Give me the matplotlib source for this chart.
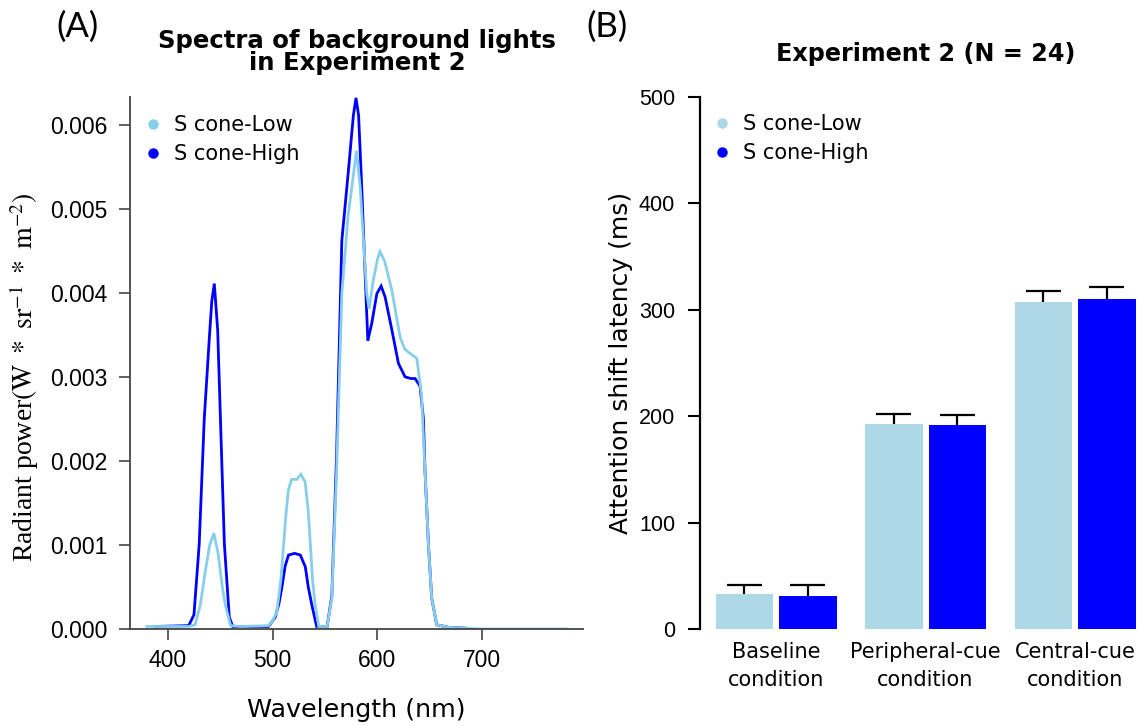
import matplotlib
matplotlib.use('Agg')
import matplotlib.pyplot as plt
from matplotlib.lines import Line2D

plt.rcParams['mathtext.fontset'] = 'stix'

# ---------------- data ----------------
wl_low = [380, 420, 426, 431, 436, 440, 444, 448, 452, 455, 460, 470, 496, 500, 504, 508,
          510.5, 513, 515, 518, 523, 527, 531, 534, 536, 538, 540.6, 544, 552, 556.5, 561,
          566, 572, 576, 580, 583.5, 586.7, 589.8, 592, 596, 600, 602.5, 607, 613.7, 621.6,
          626, 631, 637.5, 642, 645.4, 648.6, 651.7, 656.5, 668, 680, 700, 780]
power_low = [0.00003, 0.00003, 0.00005, 0.00028, 0.0007, 0.0010, 0.00114, 0.0009, 0.0005,
             0.00028, 0.00004, 0.00003, 0.00004, 0.0001, 0.0002, 0.0006, 0.00101, 0.0014,
             0.00165, 0.00178, 0.00178, 0.00184, 0.00175, 0.0014, 0.00101, 0.0006, 0.00028,
             0.00003, 0.00003, 0.00037, 0.00186, 0.00399, 0.00492, 0.0053, 0.00569, 0.00526,
             0.00462, 0.00399, 0.00381, 0.00415, 0.0044, 0.00449, 0.00437, 0.00403, 0.00347,
             0.00333, 0.00328, 0.00322, 0.00279, 0.00186, 0.00101, 0.00037, 0.00005, 0.00002,
             0.00001, 0.0, 0.0]

wl_high = [388, 420, 425, 430, 434.8, 439.7, 442, 444.4, 447.6, 450.8, 454, 458.7, 462, 496,
           502.5, 506, 508.9, 512, 515.2, 521, 526.4, 531.2, 534, 537.5, 542, 552, 556.5, 561,
           566, 572.4, 577, 579.5, 582, 585, 588.3, 590.8, 594.6, 599.4, 603.5, 607.3, 613.7,
           620, 626.3, 632, 635.9, 640.6, 643.8, 645.4, 648.6, 651.7, 656.5, 668, 684]
power_high = [0.00003, 0.00004, 0.00017, 0.00101, 0.0025, 0.00347, 0.0039, 0.00411, 0.00356,
              0.00228, 0.00101, 0.00014, 0.00003, 0.00003, 0.00014, 0.0003, 0.0005, 0.00075,
              0.00088, 0.0009, 0.00088, 0.00074, 0.0005, 0.00028, 0.00003, 0.00003, 0.0004,
              0.00207, 0.00462, 0.00547, 0.00611, 0.00632, 0.00611, 0.00526, 0.0042, 0.00343,
              0.00364, 0.00399, 0.00408, 0.00395, 0.00356, 0.00316, 0.003, 0.00298, 0.00298,
              0.00289, 0.0025, 0.00186, 0.00101, 0.00037, 0.00005, 0.00002, 0.00001]

conditions = ["Baseline\ncondition", "Peripheral-cue\ncondition", "Central-cue\ncondition"]
latency_low = [32.6, 192.4, 307.0]
latency_high = [31.3, 191.5, 310.2]
err_low = [8.8, 9.4, 10.4]
err_high = [10.1, 9.3, 11.5]

series_names = ["S cone-Low", "S cone-High"]
line_colors = ["#87CEEB", "#0000FF"]
bar_colors = ["#ADD8E6", "#0000FF"]

# ---------------- layout helpers ----------------
W, H = 1148, 726
fig = plt.figure(figsize=(W / 100, H / 100), dpi=100)


def fx(px):
    return px / W


def fy(py):
    return 1 - py / H


SANS = 'Liberation Sans'
DV = 'DejaVu Sans'

# ---------------- panel A ----------------
axL = fig.add_axes([fx(130), fy(629), (583 - 130) / W, (629 - 97) / H])
axL.plot(wl_high, power_high, color=line_colors[1], lw=2.0, solid_joinstyle='miter')
axL.plot(wl_low, power_low, color=line_colors[0], lw=2.0, solid_joinstyle='miter')
axL.set_xlim(364, 796)
axL.set_ylim(0, 0.00633)
axL.set_xticks([400, 500, 600, 700])
axL.set_yticks([0, 0.001, 0.002, 0.003, 0.004, 0.005, 0.006])
axL.set_yticklabels([f"{v:.3f}" for v in axL.get_yticks()])
for s in ['top', 'right']:
    axL.spines[s].set_visible(False)
for s in ['left', 'bottom']:
    axL.spines[s].set_color('#444444')
    axL.spines[s].set_linewidth(1.3)
axL.tick_params(axis='both', direction='out', length=7.7, width=1.2, color='#444444',
                labelsize=16.5)
axL.tick_params(axis='y', pad=8.5)
axL.tick_params(axis='x', pad=7)
for lab in axL.get_xticklabels() + axL.get_yticklabels():
    lab.set_fontfamily(SANS)

hL = [Line2D([], [], ls='none', marker='o', markersize=7.5, markeredgewidth=0, color=c)
      for c in line_colors]
axL.legend(hL, series_names, loc='upper left', frameon=False,
           bbox_to_anchor=(fx(145), fy(115)), bbox_transform=fig.transFigure,
           borderaxespad=0, borderpad=0, handlelength=0.8, handletextpad=0.6,
           labelspacing=0.44, prop={'family': DV, 'size': 15})

fig.text(fx(357), fy(48.3), "Spectra of background lights", ha='center', va='baseline',
         fontsize=17.6, fontweight='bold', family=DV)
fig.text(fx(357), fy(70), "in Experiment 2", ha='center', va='baseline',
         fontsize=17.6, fontweight='bold', family=DV)
fig.text(fx(356), fy(717), "Wavelength (nm)", ha='center', va='baseline',
         fontsize=18.3, family=DV)
fig.text(fx(24), fy(377),
         r"Radiant power$(\mathrm{W}\ *\ \mathrm{sr}^{-1}\ *\ \mathrm{m}^{-2})$",
         rotation=90, ha='center', va='center', fontsize=20, family='Liberation Serif')
fig.text(fx(77), fy(27), "(A)", ha='center', va='center', fontsize=25, family='Lato')

# ---------------- panel B ----------------
axR = fig.add_axes([fx(700), fy(629), (1146 - 700) / W, (629 - 97) / H])
pitch = 149.5
off = 31.75 / pitch
bw = 57.5 / pitch
capw = 35 / pitch
xs = list(range(len(conditions)))
xl = [x - off for x in xs]
xh = [x + off for x in xs]
axR.bar(xl, latency_low, width=bw, color=bar_colors[0], edgecolor='none')
axR.bar(xh, latency_high, width=bw, color=bar_colors[1], edgecolor='none')
for xpos, vals, errs in [(xl, latency_low, err_low), (xh, latency_high, err_high)]:
    tops = [v + e for v, e in zip(vals, errs)]
    axR.vlines(xpos, vals, tops, color='black', lw=1.6)
    axR.hlines(tops, [x - capw / 2 for x in xpos], [x + capw / 2 for x in xpos],
               color='black', lw=1.6)
axR.set_xlim((700 - 776) / pitch, (1146 - 776) / pitch)
axR.set_ylim(0, 500)
axR.set_yticks([0, 100, 200, 300, 400, 500])
axR.set_xticks(xs)
axR.set_xticklabels(conditions, family=DV, fontsize=15, linespacing=1.5)
for s in ['top', 'right', 'bottom']:
    axR.spines[s].set_visible(False)
axR.spines['left'].set_linewidth(1.6)
axR.spines['left'].set_color('black')
axR.tick_params(axis='y', direction='out', length=8.4, width=1.5, labelsize=15.5, pad=9.5)
axR.tick_params(axis='x', length=0, pad=9)
for lab in axR.get_yticklabels():
    lab.set_fontfamily(SANS)

hR = [Line2D([], [], ls='none', marker='o', markersize=7.5, markeredgewidth=0, color=c)
      for c in bar_colors]
axR.legend(hR, series_names, loc='upper left', frameon=False,
           bbox_to_anchor=(fx(714), fy(114)), bbox_transform=fig.transFigure,
           borderaxespad=0, borderpad=0, handlelength=0.8, handletextpad=0.6,
           labelspacing=0.44, prop={'family': DV, 'size': 15})

fig.text(fx(925.5), fy(60.7), "Experiment 2 (N = 24)", ha='center', va='baseline',
         fontsize=17.2, fontweight='bold', family=DV)
fig.text(fx(621), fy(363), "Attention shift latency (ms)", rotation=90, ha='center',
         va='center', fontsize=18, family=DV)
fig.text(fx(607), fy(27), "(B)", ha='center', va='center', fontsize=25, family='Lato')

fig.savefig("out.png", dpi=100)
